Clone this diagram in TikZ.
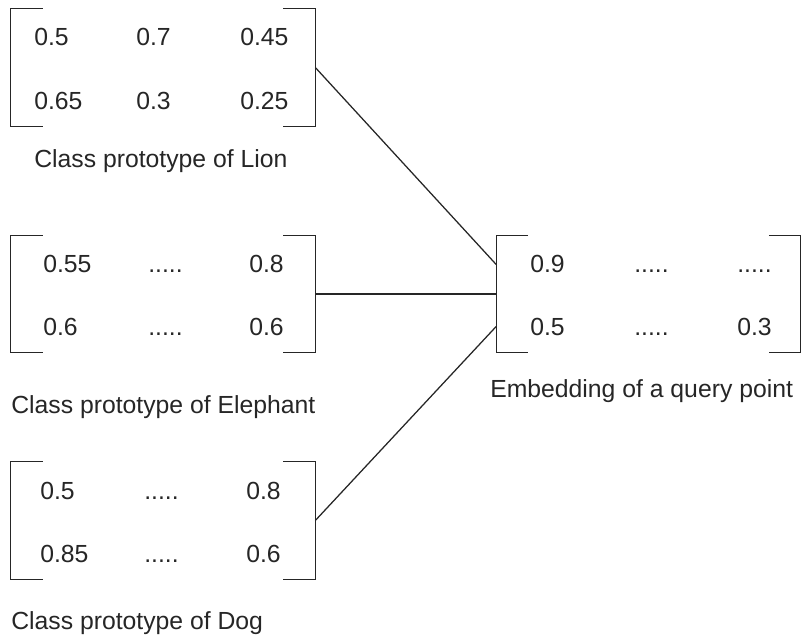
\documentclass[tikz,border=0pt]{standalone}
\usepackage{fontspec}
\setmainfont{Liberation Sans}

\newcommand{\vecbrackets}[1]{
	\draw[link] ([xshift=0.8cm]#1.north west) -| (#1.south west) -- ++(0.8cm,0);
	\draw[link] ([xshift=-0.8cm]#1.north east) -| (#1.south east) -- ++(-0.8cm,0);
}

\begin{document}
\begin{tikzpicture}[x=0.025cm, y=-0.025cm,
	vec/.style = {minimum width=7.6cm, minimum height=2.925cm, inner sep=0pt},
	entry/.style = {anchor=base west, inner sep=0pt, text=black!85, font=\fontsize{17.6}{20}\selectfont},
	link/.style = {black!85, line width=0.9pt}]
	
	\useasboundingbox (0,0) rectangle (802,636);
	
	% the four vectors
	\node[vec] (lion) at (163,67.5) {};
	\node[vec] (elephant) at (163,294) {};
	\node[vec] (dog) at (163,520.5) {};
	\node[vec] (query) at (648.5,294) {};
	\vecbrackets{lion}
	\vecbrackets{elephant}
	\vecbrackets{dog}
	\vecbrackets{query}
	
	% Lion
	\node[entry] (l11) at (34,46) {0.5};
	\node[entry] (l12) at (136,46) {0.7};
	\node[entry] (l13) at (240,46) {0.45};
	\node[entry] (l21) at (34,110) {0.65};
	\node[entry] (l22) at (136,110) {0.3};
	\node[entry] (l23) at (240,110) {0.25};
	\node[entry] (lcap) at (34,168) {Class prototype of Lion};
	
	% Elephant
	\node[entry] (e11) at (43,273) {0.55};
	\node[entry] (e12) at (148,273) {.....};
	\node[entry] (e13) at (249,273) {0.8};
	\node[entry] (e21) at (43,335) {0.6};
	\node[entry] (e22) at (148,335) {.....};
	\node[entry] (e23) at (249,335) {0.6};
	\node[entry] (ecap) at (11,413) {Class prototype of Elephant};
	
	% Dog
	\node[entry] (d11) at (40,499) {0.5};
	\node[entry] (d12) at (144,499) {.....};
	\node[entry] (d13) at (246,499) {0.8};
	\node[entry] (d21) at (40,562) {0.85};
	\node[entry] (d22) at (144,562) {.....};
	\node[entry] (d23) at (246,562) {0.6};
	\node[entry] (dcap) at (11,629) {Class prototype of Dog};
	
	% query point
	\node[entry] (q11) at (530,273) {0.9};
	\node[entry] (q12) at (634,273) {.....};
	\node[entry] (q13) at (737,273) {.....};
	\node[entry] (q21) at (530,335) {0.5};
	\node[entry] (q22) at (634,335) {.....};
	\node[entry] (q23) at (737,335) {0.3};
	\node[entry] (qcap) at (490,397) {Embedding of a query point};
	
	\draw[link] (lion.east) -- (query.west |- q11.center);
	\draw[link] (elephant.east) -- (query.west);
	\draw[link] (dog.east) -- (query.west |- q21.center);
	
\end{tikzpicture}
\end{document}
